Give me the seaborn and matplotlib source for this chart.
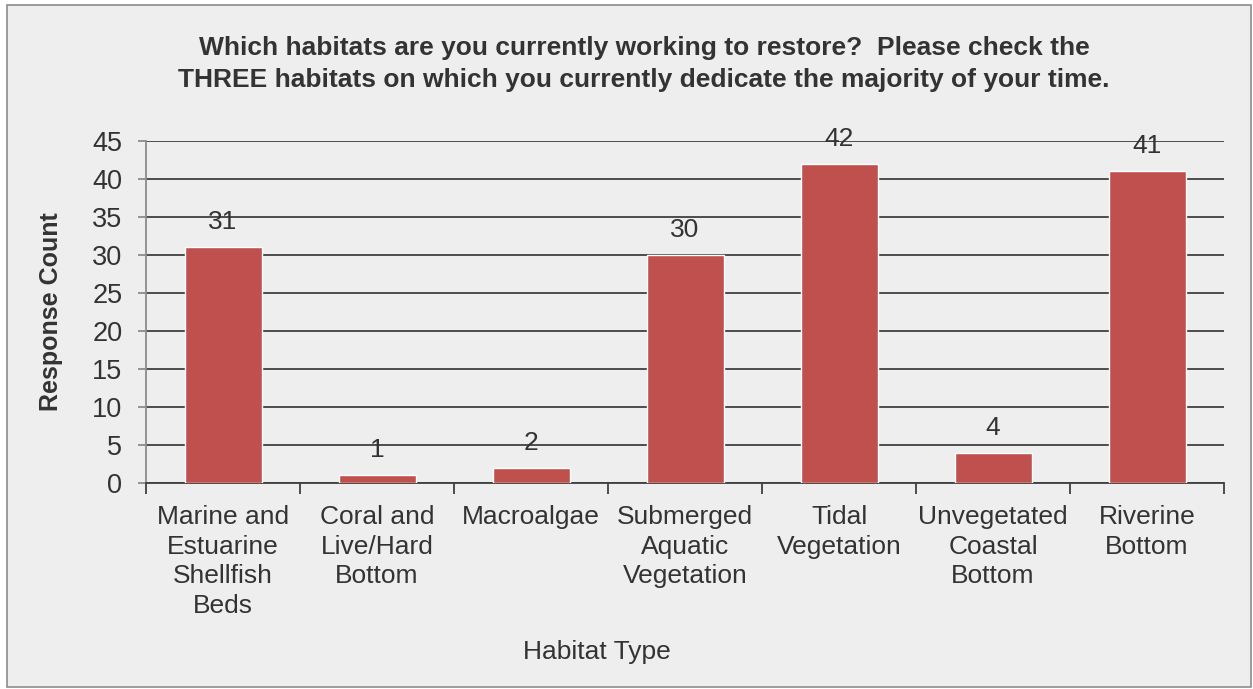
import matplotlib
matplotlib.use("Agg")
import matplotlib.pyplot as plt
import seaborn as sns
import pandas as pd
import numpy as np
from matplotlib.patches import Rectangle

categories = ["Marine and\nEstuarine\nShellfish\nBeds", "Coral and\nLive/Hard\nBottom", "Macroalgae",
              "Submerged\nAquatic\nVegetation", "Tidal\nVegetation", "Unvegetated\nCoastal\nBottom",
              "Riverine\nBottom"]
counts = [31, 1, 2, 30, 42, 4, 41]
yticks = [0, 5, 10, 15, 20, 25, 30, 35, 40, 45]

sns.set_theme(style="white")
plt.rcParams['font.family'] = ['Liberation Sans', 'DejaVu Sans']

bg = "#eeeeee"
txt = "#333333"
fig = plt.figure(figsize=(12.53, 6.89), dpi=100, facecolor="white")
fig.patches.append(Rectangle((7/1253, 1-687/689), (1251-7)/1253, (687-5)/689, transform=fig.transFigure,
                             facecolor=bg, edgecolor="#8c8c8c", linewidth=1.2, zorder=-10))
ax = fig.add_axes([146/1253, 1-483/689, (1224-146)/1253, (483-141)/689])
ax.set_facecolor(bg)

df = pd.DataFrame({"cat": categories, "count": counts})
sns.barplot(data=df, x="cat", y="count", color="#c0504d", width=0.5, saturation=1, ax=ax, zorder=3)

ax.set_ylim(0, 45)
ax.set_xlim(-0.5, len(categories) - 0.5)
ax.set_yticks(yticks)
ax.yaxis.grid(True, color="#404040", linewidth=1.3, zorder=0)
ax.set_axisbelow(True)
for s in ["top", "right"]:
    ax.spines[s].set_visible(False)
ax.spines["left"].set_color("#8c8c8c")
ax.spines["left"].set_linewidth(1.3)
ax.spines["bottom"].set_color("#404040")
ax.spines["bottom"].set_linewidth(1.3)

ax.tick_params(axis="y", which="major", left=True, length=6, width=1.3, color="#8c8c8c",
               labelsize=19.5, labelcolor=txt, pad=11)
ax.set_xticks(range(len(categories)))
ax.set_xticklabels(categories, fontsize=19, color=txt, linespacing=1.29, va="top")
ax.tick_params(axis="x", which="major", length=0, pad=16)
ax.set_xticks(np.arange(-0.5, len(categories), 1.0), minor=True)
ax.tick_params(axis="x", which="minor", bottom=True, length=8, width=1.3, color="#404040")

for i, v in enumerate(counts):
    ax.text(i, v + 3.3, str(v), ha="center", va="center", fontsize=19, color=txt)

ax.set_ylabel("Response Count", fontsize=18, fontweight="bold", color=txt)
ax.yaxis.set_label_coords((63-146)/(1224-146), 0.5)
ax.set_xlabel("Habitat Type", fontsize=19, color=txt)
ax.xaxis.set_label_coords((597-146)/(1224-146), -(640-483)/(483-141))

fig.text(644/1253, 1-48/689, "Which habitats are you currently working to restore?  Please check the",
         ha="center", va="center", fontsize=19, fontweight="bold", color=txt)
fig.text(644/1253, 1-80/689, "THREE habitats on which you currently dedicate the majority of your time.",
         ha="center", va="center", fontsize=19, fontweight="bold", color=txt)

fig.savefig("out.png", dpi=100, facecolor="white")
